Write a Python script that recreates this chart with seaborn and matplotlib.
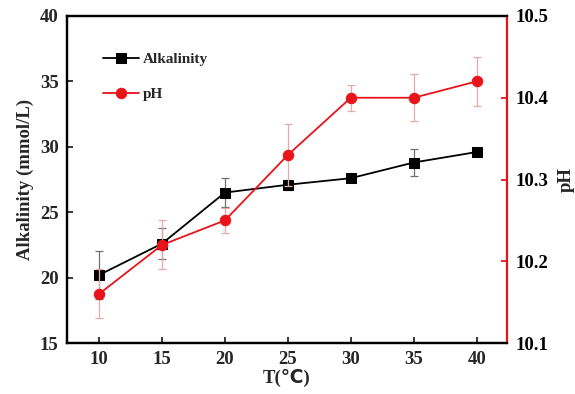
import numpy as np
import pandas as pd
import matplotlib
matplotlib.use("Agg")
import matplotlib.pyplot as plt
import seaborn as sns

# dados
temp = [10, 15, 20, 25, 30, 35, 40]
alkalinity = [20.2, 22.6, 26.5, 27.1, 27.6, 28.8, 29.6]
alk_err = [1.8, 1.2, 1.1, 0.4, 0.15, 1.05, 0.2]
ph = [10.16, 10.22, 10.25, 10.33, 10.40, 10.40, 10.42]
ph_err = [0.03, 0.03, 0.015, 0.038, 0.016, 0.029, 0.03]

df = pd.DataFrame({"T": temp, "alk": alkalinity, "alk_err": alk_err,
                   "ph": ph, "ph_err": ph_err})

sns.set_style("ticks")
plt.rcParams["font.family"] = ["Liberation Serif", "DejaVu Sans"]
plt.rcParams["font.weight"] = "bold"
plt.rcParams["axes.labelweight"] = "bold"
plt.rcParams["xtick.direction"] = "in"
plt.rcParams["ytick.direction"] = "in"

fig = plt.figure(figsize=(5.75, 3.94), dpi=100)
ax = fig.add_axes([0.1165, 0.1294, 0.765, 0.83])
ax2 = ax.twinx()

red = "#e8141a"

# erros
ax.errorbar(df["T"], df["alk"], yerr=df["alk_err"], fmt="none",
             ecolor="#707070", elinewidth=0.9, capsize=3, capthick=0.9, zorder=2)
ax2.errorbar(df["T"], df["ph"], yerr=df["ph_err"], fmt="none",
             ecolor="#e8a8a8", elinewidth=0.9, capsize=3, capthick=0.9, zorder=2)

sns.lineplot(data=df, x="T", y="alk", ax=ax, color="black", marker="s",
             markersize=6.5, markeredgecolor="black", linewidth=1.3,
             label="Alkalinity", legend=False, zorder=3)
sns.lineplot(data=df, x="T", y="ph", ax=ax2, color=red, marker="o",
             markersize=7.5, markeredgecolor=red, linewidth=1.3,
             label="pH", legend=False, zorder=3)

ax.set_xlim(7.45, 42.4)
ax.set_ylim(15, 40)
ax2.set_ylim(10.1, 10.5)
ax.set_xticks(temp)
ax.set_yticks([15, 20, 25, 30, 35, 40])
ax2.set_yticks([10.1, 10.2, 10.3, 10.4, 10.5])
ax2.set_yticklabels(["10.1", "10.2", "10.3", "10.4", "10.5"])

ax.set_xlabel("T(℃)", fontsize=13.5, labelpad=0)
ax.set_ylabel("Alkalinity (mmol/L)", fontsize=13.5, labelpad=4)
ax2.set_ylabel("pH", fontsize=13.5, labelpad=7)

for a in (ax, ax2):
    a.tick_params(labelsize=13.5, length=4, width=1.3, pad=6)
    for s in a.spines.values():
        s.set_linewidth(1.6)
        s.set_color("black")
ax2.spines["right"].set_color(red)
ax2.tick_params(axis="y", colors=red, labelcolor="black")
ax.spines["right"].set_visible(False)

h1, l1 = ax.get_legend_handles_labels()
h2, l2 = ax2.get_legend_handles_labels()
ax.legend(h1 + h2, l1 + l2, loc="upper left", bbox_to_anchor=(0.05, 0.93),
          frameon=False, handlelength=2.4, handletextpad=0.2,
          labelspacing=1.4, prop={"weight": "bold", "size": 11})

plt.savefig("out.png", dpi=100)
